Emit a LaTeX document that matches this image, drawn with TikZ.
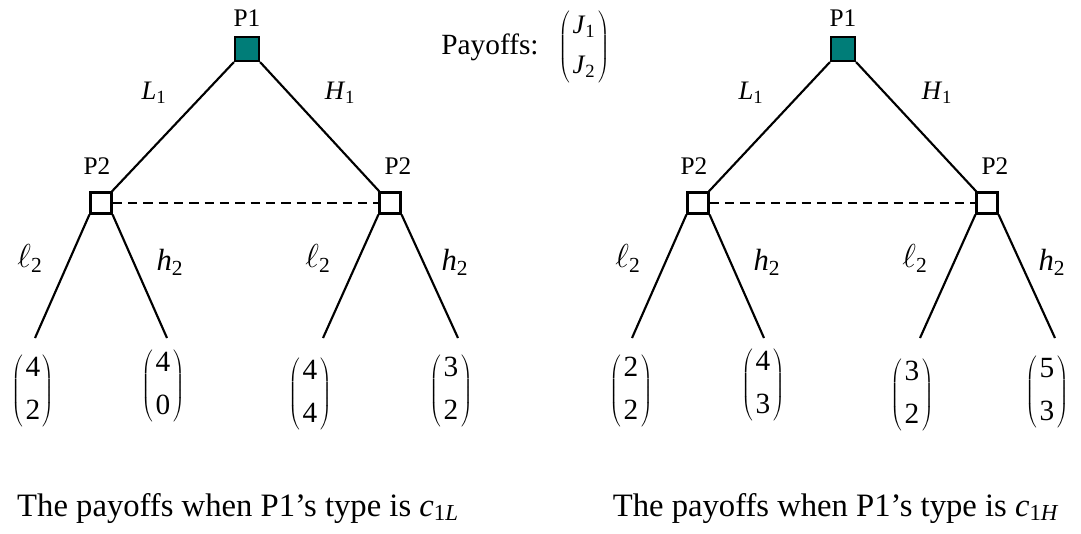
\documentclass[tikz,border=0pt]{standalone}
\usepackage{fontspec}
\setmainfont{Liberation Serif}
\usetikzlibrary{positioning}
\definecolor{pone}{RGB}{0,125,120}
\newcommand{\pvar}[2]{\textit{#1}\textsubscript{#2}}
\newcommand{\payv}[2]{$\left(\begin{tabular}{@{\hspace{2pt}}c@{\hspace{2pt}}}#1\\[6pt]#2\end{tabular}\right)$}

\begin{document}
\begin{tikzpicture}[x=0.75pt,y=-0.75pt,line width=1.6pt,
  pfirst/.style={draw,fill=pone,minimum size=18pt,inner sep=0pt},
  psecond/.style={draw,fill=white,minimum size=15.75pt,inner sep=0pt},
  plabel/.style={font=\fontsize{19}{22}\selectfont},
  mlabel/.style={font=\fontsize{20}{24}\selectfont},
  slabel/.style={font=\fontsize{23}{27}\selectfont},
  leaf/.style={font=\fontsize{22}{26}\selectfont,inner sep=0pt},
  caption/.style={font=\fontsize{24.5}{29}\selectfont,anchor=base},
  info/.style={dashed,dash pattern=on 7pt off 4.5pt}]
  \useasboundingbox (0,0) rectangle (1081,533);

  % type c_1L
  \node[pfirst] (topA) at (247,49) {};
  \node[plabel] (labA) at (247,18) {P1};
  \node[psecond] (midAl) at (101,203) {};
  \node[psecond] (midAr) at (390,203) {};
  \node[plabel] (labAl) at (97,166) {P2};
  \node[plabel] (labAr) at (398,166) {P2};
  \draw (topA.south west) -- (midAl);
  \draw (topA.south east) -- (midAr);
  \draw[info] (midAl) -- (midAr);
  \coordinate (endAa) at (35,338);
  \coordinate (endAb) at (167,338);
  \coordinate (endAc) at (323,338);
  \coordinate (endAd) at (458,338);
  \draw (midAl.south west) -- (endAa);
  \draw (midAl.south east) -- (endAb);
  \draw (midAr.south west) -- (endAc);
  \draw (midAr.south east) -- (endAd);
  \node[mlabel] (mvAl) at (154,93) {\pvar{L}{1}};
  \node[mlabel] (mvAh) at (340,93) {\pvar{H}{1}};
  \node[slabel] (svAa) at (30,258) {$\ell$\textsubscript{2}};
  \node[slabel] (svAb) at (170,262) {\pvar{h}{2}};
  \node[slabel] (svAc) at (318,258) {$\ell$\textsubscript{2}};
  \node[slabel] (svAd) at (455,262) {\pvar{h}{2}};
  \node[leaf] (leafAa) at (33,391) {\payv{4}{2}};
  \node[leaf] (leafAb) at (163,386) {\payv{4}{0}};
  \node[leaf] (leafAc) at (310,394) {\payv{4}{4}};
  \node[leaf] (leafAd) at (451,391) {\payv{3}{2}};
  \node[caption] (capA) at (238,516) {The payoffs when P1's type is \pvar{c}{1\textit{L}}};

  % legend
  \node[leaf] (payLab) at (490,47) {Payoffs:};
  \node[leaf,font=\fontsize{20}{24}\selectfont] (payVec) at (584,47) {\payv{\pvar{J}{1}}{\pvar{J}{2}}};

  % type c_1H
  \node[pfirst] (topB) at (843,49) {};
  \node[plabel] (labB) at (843,18) {P1};
  \node[psecond] (midBl) at (698,203) {};
  \node[psecond] (midBr) at (987,203) {};
  \node[plabel] (labBl) at (694,166) {P2};
  \node[plabel] (labBr) at (995,166) {P2};
  \draw (topB.south west) -- (midBl);
  \draw (topB.south east) -- (midBr);
  \draw[info] (midBl) -- (midBr);
  \coordinate (endBa) at (632,338);
  \coordinate (endBb) at (764,338);
  \coordinate (endBc) at (920,338);
  \coordinate (endBd) at (1055,338);
  \draw (midBl.south west) -- (endBa);
  \draw (midBl.south east) -- (endBb);
  \draw (midBr.south west) -- (endBc);
  \draw (midBr.south east) -- (endBd);
  \node[mlabel] (mvBl) at (751,93) {\pvar{L}{1}};
  \node[mlabel] (mvBh) at (937,93) {\pvar{H}{1}};
  \node[slabel] (svBa) at (628,258) {$\ell$\textsubscript{2}};
  \node[slabel] (svBb) at (767,262) {\pvar{h}{2}};
  \node[slabel] (svBc) at (915,258) {$\ell$\textsubscript{2}};
  \node[slabel] (svBd) at (1052,262) {\pvar{h}{2}};
  \node[leaf] (leafBa) at (631,391) {\payv{2}{2}};
  \node[leaf] (leafBb) at (763,385) {\payv{4}{3}};
  \node[leaf] (leafBc) at (912,395) {\payv{3}{2}};
  \node[leaf] (leafBd) at (1047,392) {\payv{5}{3}};
  \node[caption] (capB) at (836,516) {The payoffs when P1's type is \pvar{c}{1\textit{H}}};
\end{tikzpicture}
\end{document}
